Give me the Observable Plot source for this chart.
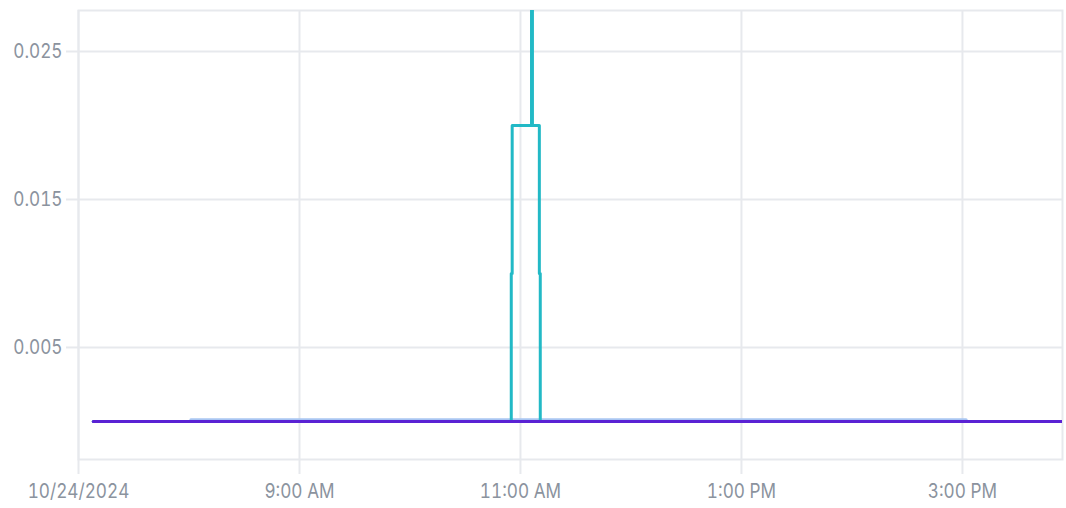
<!DOCTYPE html>
<html>
<head>
<meta charset="utf-8">
<script src="https://cdn.jsdelivr.net/npm/d3@7"></script>
<script src="https://cdn.jsdelivr.net/npm/@observablehq/plot@0.6"></script>
<style>
  html, body { margin: 0; padding: 0; background: #ffffff; }
  #chart { width: 1066px; height: 508px; }
  svg { font-family: Inter, "Noto Sans", sans-serif; }
</style>
</head>
<body>
<div id="chart"></div>
<script>
// ---- data ----
const day = [2024, 9, 24];
const T = (h, m, s = 0) => new Date(day[0], day[1], day[2], h, m, s);

// teal series (step-after)
const tealTimes  = [T(7,8), T(10,55), T(10,55,30), T(11,6), T(11,6,30), T(11,10,15), T(11,10,45), T(15,54)];
const tealValues = [0,      0.01,     0.02,        0.045,   0.02,       0.01,        0,           0];

// light blue series
const blueTimes  = [T(8,1), T(15,2)];
const blueValues = [0.00012, 0.00012];

// purple series
const purpleTimes  = [T(7,8), T(15,54)];
const purpleValues = [0, 0];

// axes
const xTickTimes  = [T(7,0), T(9,0), T(11,0), T(13,0), T(15,0)];
const xTickLabels = ["10/24/2024", "9:00 AM", "11:00 AM", "1:00 PM", "3:00 PM"];
const yTicks      = [0.005, 0.015, 0.025];
const yTickLabels = ["0.005", "0.015", "0.025"];

// ---- build ----
const toRows = (ts, vs) => ts.map((t, i) => ({t, v: vs[i]}));
const teal = toRows(tealTimes, tealValues);
const blue = toRows(blueTimes, blueValues);
const purple = toRows(purpleTimes, purpleValues);

const gridColor = "#e7e9ed";
const textColor = "#8b939e";

const chart = Plot.plot({
  width: 1066,
  height: 508,
  marginLeft: 78,
  marginRight: 4,
  marginTop: 10,
  marginBottom: 49,
  style: {background: "#ffffff", overflow: "visible"},
  x: {type: "time", domain: [T(7,0), T(15,54,20)]},
  y: {domain: [-0.00257, 0.02777]},
  marks: [
    Plot.gridX(xTickTimes, {stroke: gridColor, strokeOpacity: 1, strokeWidth: 2}),
    Plot.gridY(yTicks, {stroke: gridColor, strokeOpacity: 1, strokeWidth: 2}),
    Plot.frame({stroke: gridColor, strokeWidth: 2}),
    Plot.axisX(xTickTimes, {
      tickFormat: (d, i) => xTickLabels[i],
      tickSize: 15, tickPadding: 9,
      stroke: gridColor, strokeWidth: 2,
      fill: textColor, fontSize: 20, label: null
    }),
    Plot.axisY(yTicks, {
      tickFormat: (d, i) => yTickLabels[i],
      tickSize: 12, tickPadding: 4,
      stroke: gridColor, strokeWidth: 2,
      fill: textColor, fontSize: 20, label: null
    }),
    Plot.line(blue, {x: "t", y: "v", stroke: "#a9c6f2", strokeWidth: 3, curve: "step-after", clip: true}),
    Plot.line(teal, {x: "t", y: "v", stroke: "#22b9c6", strokeWidth: 3, curve: "step-after", clip: true}),
    Plot.line(purple, {x: "t", y: "v", stroke: "#5a22d4", strokeWidth: 3, curve: "step-after", clip: true})
  ]
});

// condense tick labels horizontally
chart.querySelectorAll('g[aria-label="x-axis tick label"] text, g[aria-label="y-axis tick label"] text').forEach(el => {
  const tr = el.getAttribute("transform") || "";
  el.setAttribute("transform", tr + " scale(0.86,1)");
});

document.getElementById("chart").appendChild(chart);
</script>
</body>
</html>
